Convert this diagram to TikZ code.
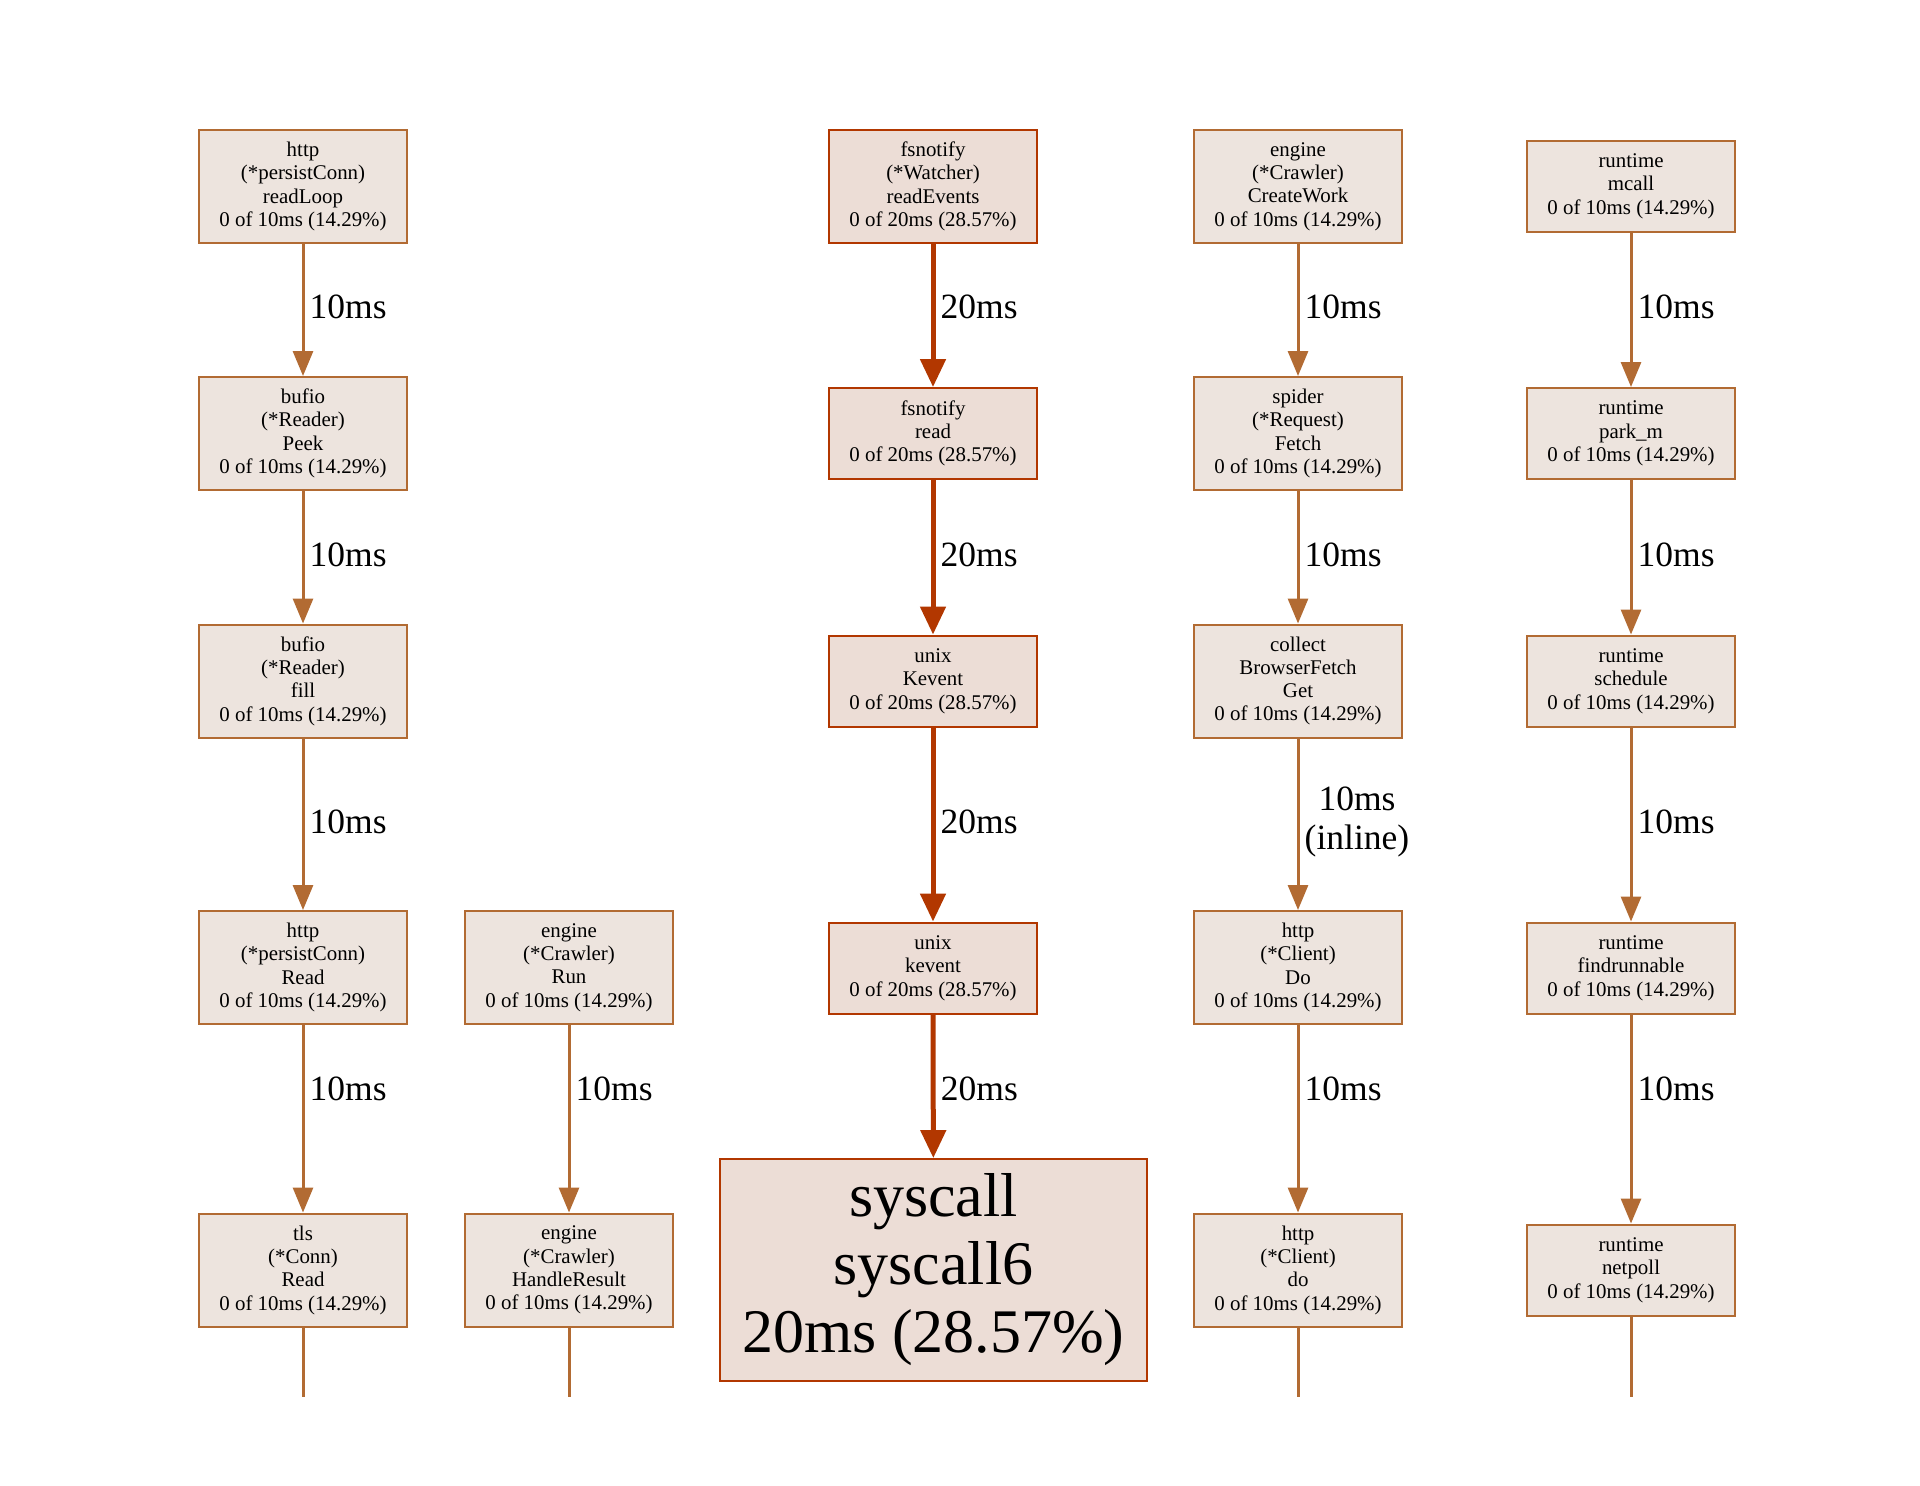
\documentclass[tikz,border=0pt]{standalone}
\usepackage{fontspec}
\setmainfont{Liberation Serif}
\usetikzlibrary{arrows.meta}
\definecolor{brn}{RGB}{178,107,51}
\definecolor{brnfill}{RGB}{237,228,222}
\definecolor{redd}{RGB}{178,55,0}
\definecolor{redfill}{RGB}{236,221,214}
\tikzset{
  fn/.style={draw=brn, fill=brnfill, line width=1pt, minimum width=104pt, minimum height=56.5pt,
    inner sep=0pt, align=center, font=\fontsize{10.45}{11.65}\selectfont},
  fnthree/.style={fn, minimum height=45.5pt},
  hot/.style={draw=redd, fill=redfill},
  big/.style={draw=redd, fill=redfill, line width=1pt, minimum width=213.5pt, minimum height=111pt,
    inner sep=0pt, align=center, font=\fontsize{31}{34}\selectfont},
  ebrn/.style={draw=brn, line width=1.5pt, -{Triangle[length=12.5pt,width=10pt]}},
  ered/.style={draw=redd, line width=2.5pt, -{Triangle[length=14pt,width=12.5pt]}},
  eend/.style={draw=brn, line width=1.5pt},
  lbl/.style={anchor=west, inner sep=0pt, xshift=2.6pt, align=center, font=\fontsize{17.75}{19.5}\selectfont}
}
\begin{document}
\begin{tikzpicture}[x=0.5pt,y=-0.5pt]
\useasboundingbox (0,0) rectangle (1920,1485);
% column 1
\node[fn] (a1) at (303,186.5) {http\\(*persistConn)\\readLoop\\0 of 10ms (14.29\%)};
\node[fn] (a2) at (303,433.5) {bufio\\(*Reader)\\Peek\\0 of 10ms (14.29\%)};
\node[fn] (a3) at (303,681) {bufio\\(*Reader)\\fill\\0 of 10ms (14.29\%)};
\node[fn] (a4) at (303,967.5) {http\\(*persistConn)\\Read\\0 of 10ms (14.29\%)};
\node[fn] (a5) at (303,1270) {tls\\(*Conn)\\Read\\0 of 10ms (14.29\%)};
\coordinate (a6) at (303,1397);
% column 2
\node[fn] (b4) at (569,967.5) {engine\\(*Crawler)\\Run\\0 of 10ms (14.29\%)};
\node[fn] (b5) at (569,1270) {engine\\(*Crawler)\\HandleResult\\0 of 10ms (14.29\%)};
\coordinate (b6) at (569,1397);
% column 3
\node[fn,hot] (c1) at (933,186.5) {fsnotify\\(*Watcher)\\readEvents\\0 of 20ms (28.57\%)};
\node[fnthree,hot] (c2) at (933,433.5) {fsnotify\\read\\0 of 20ms (28.57\%)};
\node[fnthree,hot] (c3) at (933,681) {unix\\Kevent\\0 of 20ms (28.57\%)};
\node[fnthree,hot] (c4) at (933,968) {unix\\kevent\\0 of 20ms (28.57\%)};
\node[big] (c5) at (933.5,1270) {syscall\\syscall6\\20ms (28.57\%)};
% column 4
\node[fn] (d1) at (1298,186.5) {engine\\(*Crawler)\\CreateWork\\0 of 10ms (14.29\%)};
\node[fn] (d2) at (1298,433.5) {spider\\(*Request)\\Fetch\\0 of 10ms (14.29\%)};
\node[fn] (d3) at (1298,681) {collect\\BrowserFetch\\Get\\0 of 10ms (14.29\%)};
\node[fn] (d4) at (1298,967.5) {http\\(*Client)\\Do\\0 of 10ms (14.29\%)};
\node[fn] (d5) at (1298,1270) {http\\(*Client)\\do\\0 of 10ms (14.29\%)};
\coordinate (d6) at (1298,1397);
% column 5
\node[fnthree] (e1) at (1631,186) {runtime\\mcall\\0 of 10ms (14.29\%)};
\node[fnthree] (e2) at (1631,433.5) {runtime\\park\_m\\0 of 10ms (14.29\%)};
\node[fnthree] (e3) at (1631,681) {runtime\\schedule\\0 of 10ms (14.29\%)};
\node[fnthree] (e4) at (1631,968) {runtime\\findrunnable\\0 of 10ms (14.29\%)};
\node[fnthree] (e5) at (1631,1270) {runtime\\netpoll\\0 of 10ms (14.29\%)};
\coordinate (e6) at (1631,1397);
% edges column 1
\draw[ebrn] (a1) -- node[lbl,pos=0.477] {10ms} (a2);
\draw[ebrn] (a2) -- node[lbl,pos=0.485] {10ms} (a3);
\draw[ebrn] (a3) -- node[lbl,pos=0.488] {10ms} (a4);
\draw[ebrn] (a4) -- node[lbl,pos=0.342] {10ms} (a5);
\draw[eend] (a5) -- (a6);
% edges column 2
\draw[ebrn] (b4) -- node[lbl,pos=0.342] {10ms} (b5);
\draw[eend] (b5) -- (b6);
% edges column 3
\draw[ered] (c1) -- node[lbl,pos=0.44] {20ms} (c2);
\draw[ered] (c2) -- node[lbl,pos=0.487] {20ms} (c3);
\draw[ered] (c3) -- node[lbl,pos=0.486] {20ms} (c4);
\draw[ered] (c4) -- node[lbl,pos=0.517] {20ms} (c5);
% edges column 4
\draw[ebrn] (d1) -- node[lbl,pos=0.477] {10ms} (d2);
\draw[ebrn] (d2) -- node[lbl,pos=0.485] {10ms} (d3);
\draw[ebrn] (d3) -- node[lbl,pos=0.488] {10ms\\(inline)} (d4);
\draw[ebrn] (d4) -- node[lbl,pos=0.342] {10ms} (d5);
\draw[eend] (d5) -- (d6);
% edges column 5
\draw[ebrn] (e1) -- node[lbl,pos=0.48] {10ms} (e2);
\draw[ebrn] (e2) -- node[lbl,pos=0.487] {10ms} (e3);
\draw[ebrn] (e3) -- node[lbl,pos=0.486] {10ms} (e4);
\draw[ebrn] (e4) -- node[lbl,pos=0.357] {10ms} (e5);
\draw[eend] (e5) -- (e6);
\end{tikzpicture}
\end{document}
